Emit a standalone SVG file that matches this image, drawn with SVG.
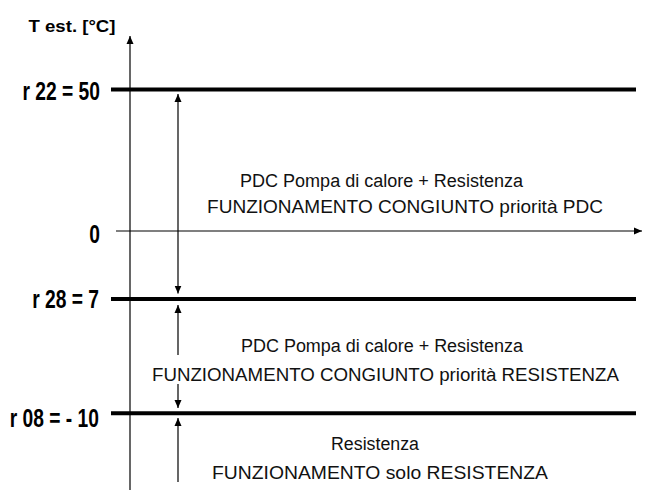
<svg xmlns="http://www.w3.org/2000/svg" width="653" height="495" viewBox="0 0 653 495">
<style>
.lbl{font-family:"Liberation Sans",Arial,sans-serif;font-weight:bold;font-size:26px;fill:#000;text-anchor:end}
.ttl{font-family:"Liberation Sans",Arial,sans-serif;font-weight:bold;font-size:17px;fill:#000}
.txt{font-family:"Liberation Sans",Arial,sans-serif;font-size:18px;fill:#111}
.thick{stroke:#000;stroke-width:4;fill:none}
.thin{stroke:#000;stroke-width:1.2;fill:none}
</style>
<defs>
<marker id="ah" viewBox="0 0 8 8" refX="8" refY="4" markerWidth="8" markerHeight="8" markerUnits="userSpaceOnUse" orient="auto-start-reverse">
<path d="M0,0.5 L8,4 L0,7.5 z" fill="#000"/>
</marker>
</defs>
<rect width="653" height="495" fill="#fff"/>
<g id="axes">
<line class="thin" x1="130" y1="490" x2="130" y2="36" marker-end="url(#ah)"/>
<line class="thin" x1="116" y1="231" x2="642" y2="231" marker-end="url(#ah)"/>
<text class="ttl" x="28.5" y="32" textLength="87" lengthAdjust="spacingAndGlyphs">T est. [°C]</text>
<text class="lbl" transform="translate(100,243) scale(0.74,1)">0</text>
</g>
<g id="r22">
<line class="thick" x1="111" y1="89.5" x2="636" y2="89.5"/>
<text class="lbl" transform="translate(100,100) scale(0.74,1)">r 22 = 50</text>
</g>
<g id="r28">
<line class="thick" x1="111" y1="299" x2="636" y2="299"/>
<text class="lbl" transform="translate(99,307.5) scale(0.74,1)">r 28 = 7</text>
</g>
<g id="r08">
<line class="thick" x1="111" y1="413.3" x2="636" y2="413.3"/>
<text class="lbl" transform="translate(99,427) scale(0.74,1)">r 08 = - 10</text>
</g>
<g id="zone1">
<text class="txt" x="240" y="187" textLength="283" lengthAdjust="spacingAndGlyphs">PDC Pompa di calore + Resistenza</text>
<text class="txt" x="207" y="213" textLength="396" lengthAdjust="spacingAndGlyphs">FUNZIONAMENTO CONGIUNTO priorità PDC</text>
</g>
<g id="zone2">
<text class="txt" x="241" y="351.5" textLength="282" lengthAdjust="spacingAndGlyphs">PDC Pompa di calore + Resistenza</text>
<text class="txt" x="152" y="380.5" textLength="467" lengthAdjust="spacingAndGlyphs">FUNZIONAMENTO CONGIUNTO priorità RESISTENZA</text>
</g>
<g id="zone3">
<text class="txt" x="331" y="450" textLength="88" lengthAdjust="spacingAndGlyphs">Resistenza</text>
<text class="txt" x="212" y="478.5" textLength="336" lengthAdjust="spacingAndGlyphs">FUNZIONAMENTO solo RESISTENZA</text>
</g>
<g id="connectors">
<path class="thin" d="M178,94 V293.5" marker-start="url(#ah)" marker-end="url(#ah)"/>
<path class="thin" d="M178,305 V355 M178,384 V408" marker-start="url(#ah)" marker-end="url(#ah)"/>
<path class="thin" d="M178,482 V418" marker-end="url(#ah)"/>
</g>
</svg>
